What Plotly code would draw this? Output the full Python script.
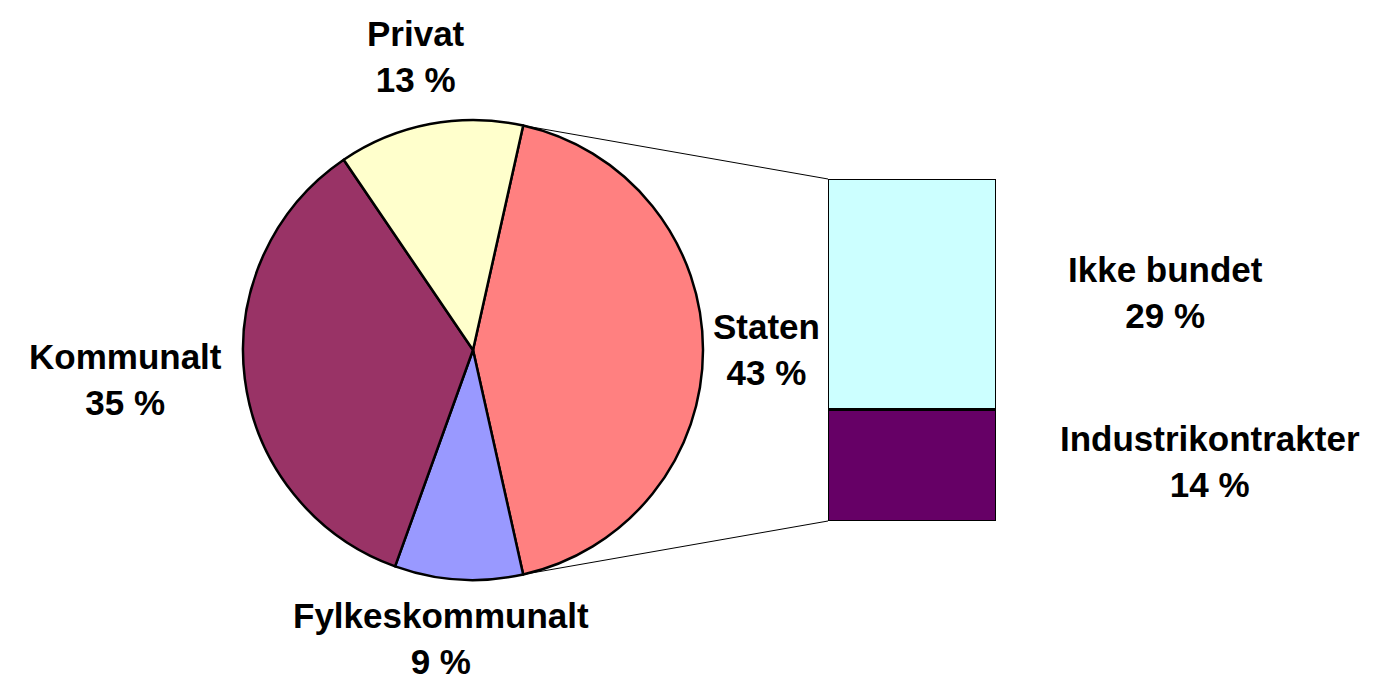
import math
import plotly.graph_objects as go

# main pie
pie_labels = ["Staten", "Fylkeskommunalt", "Kommunalt", "Privat"]
pie_values = [43, 9, 35, 13]
pie_colors = ["#FF8080", "#9999FF", "#993366", "#FFFFCC"]

# breakdown of "Staten" into the stacked bar
bar_labels = ["Industrikontrakter", "Ikke bundet"]
bar_values = [14, 29]
bar_colors = ["#660066", "#CCFFFF"]

W, H = 1389, 682
FONT = dict(family="Arial, Liberation Sans, sans-serif", size=35, color="black")

# geometry in pixels
cx, cy, r = 473, 350, 230
bar_x0, bar_x1, bar_top, bar_bottom = 828, 996, 179, 521


def px(x):
    return x / W


def py(y):
    return 1 - y / H


total = sum(pie_values)
staten_deg = pie_values[0] / total * 360
rotation = 90 - staten_deg / 2

fig = go.Figure()
fig.add_trace(go.Pie(labels=pie_labels, values=pie_values, sort=False, direction="clockwise",
                     rotation=rotation, textinfo="none", hoverinfo="label+percent",
                     marker=dict(colors=pie_colors, line=dict(color="black", width=2.5)),
                     domain=dict(x=[px(cx - r), px(cx + r)], y=[py(cy + r), py(cy - r)]),
                     showlegend=False))

for lab, val, col in zip(bar_labels, bar_values, bar_colors):
    fig.add_trace(go.Bar(x=[0], y=[val], name=lab, width=1, xaxis="x", yaxis="y",
                         marker=dict(color=col, line=dict(color="black", width=2.5)),
                         showlegend=False))

# connector lines from the edges of the Staten slice to the bar corners
a_start = math.radians(rotation)
a_end = math.radians(rotation + staten_deg)
p_start = (cx + r * math.sin(a_start), cy - r * math.cos(a_start))
p_end = (cx + r * math.sin(a_end), cy - r * math.cos(a_end))
for (x0, y0), yb in [(p_start, bar_top), (p_end, bar_bottom)]:
    fig.add_shape(type="line", xref="paper", yref="paper", x0=px(x0), y0=py(y0),
                  x1=px(bar_x0), y1=py(yb), line=dict(color="black", width=1))

# label centres in pixels
label_pos = {
    "Privat": (416, 56),
    "Staten": (766, 349),
    "Kommunalt": (125, 380),
    "Fylkeskommunalt": (441, 638),
    "Ikke bundet": (1165, 292),
    "Industrikontrakter": (1210, 462),
}
all_vals = dict(zip(pie_labels + bar_labels, pie_values + bar_values))
for lab, (x, y) in label_pos.items():
    fig.add_annotation(x=px(x), y=py(y), xref="paper", yref="paper", showarrow=False,
                       text=f"<b>{lab}<br>{all_vals[lab]} %</b>", font=FONT,
                       xanchor="center", yanchor="middle", align="center")

fig.update_layout(width=W, height=H, margin=dict(l=0, r=0, t=0, b=0),
                  paper_bgcolor="white", plot_bgcolor="white", barmode="stack",
                  xaxis=dict(domain=[px(bar_x0), px(bar_x1)], range=[-0.5, 0.5], visible=False,
                             fixedrange=True),
                  yaxis=dict(domain=[py(bar_bottom), py(bar_top)], range=[0, sum(bar_values)],
                             visible=False, fixedrange=True))

fig.write_html("out.html", config={"displayModeBar": False},
               post_script="document.body.style.margin='0';")
